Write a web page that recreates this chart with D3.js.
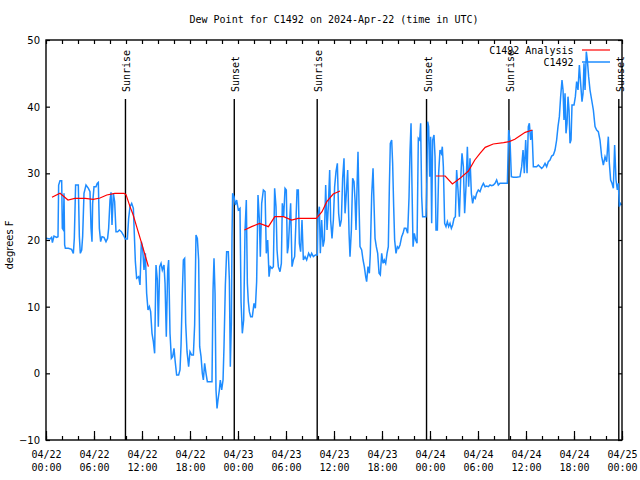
<!DOCTYPE html>
<html><head><meta charset="utf-8">
<script src="https://cdn.jsdelivr.net/npm/d3@7"></script>
<style>body{margin:0;background:#fff}</style>
</head><body><svg id="c" width="640" height="480"></svg>
<script>
const titleText = "Dew Point for C1492 on 2024-Apr-22 (time in UTC)";
const yLabel = "degrees F";
const startTime = "2024-04-22T00:00:00Z";
const endTime = "2024-04-25T00:00:00Z";
const yTicks = [-10, 0, 10, 20, 30, 40, 50];
const seriesNames = ["C1492 Analysis", "C1492"];

// observed dew point: hours since start, value (F)
const obsHours = [0,0.5,0.7,0.8,1.0,1.33,1.5,1.58,1.75,1.96,2.04,2.17,2.25,2.33,2.42,2.8,3.2,3.42,3.54,3.7,4.04,4.17,4.29,4.46,4.58,4.75,5.0,5.3,5.5,5.63,5.75,5.83,6.0,6.25,6.4,6.54,6.67,6.83,7.0,7.25,7.5,7.7,7.83,8.0,8.13,8.25,8.42,8.58,8.75,8.96,9.17,9.42,9.67,9.92,10.17,10.33,10.5,10.71,10.92,11.17,11.33,11.58,11.75,11.92,12.08,12.25,12.42,12.58,12.75,12.92,13.08,13.25,13.42,13.58,13.75,13.92,14.04,14.21,14.38,14.54,14.75,14.88,15.04,15.21,15.33,15.5,15.67,15.83,16.0,16.13,16.33,16.58,16.75,16.88,17.04,17.17,17.33,17.46,17.63,17.83,18.0,18.21,18.42,18.58,18.75,18.92,19.08,19.21,19.38,19.54,19.67,19.83,20.0,20.17,20.5,20.75,20.88,21.0,21.13,21.25,21.38,21.5,21.67,21.79,21.96,22.13,22.25,22.42,22.58,22.79,22.92,23.04,23.17,23.25,23.33,
23.5,23.67,23.83,24.04,24.25,24.38,24.54,24.71,24.88,25.04,25.17,25.29,25.42,25.58,25.79,26.0,26.17,26.33,26.5,26.67,26.79,26.96,27.17,27.38,27.54,27.71,27.88,28.04,28.25,28.42,28.58,28.75,28.88,29.04,29.25,29.42,29.54,29.71,29.88,30.04,30.17,30.29,30.46,30.58,30.75,30.92,31.08,31.25,31.38,31.54,31.67,31.83,32.0,32.17,32.38,32.58,32.83,33.04,33.21,33.42,33.67,33.92,34.0,34.17,34.29,34.46,34.63,34.79,34.96,35.13,35.29,35.46,35.58,35.75,35.92,36.08,36.25,36.42,36.58,36.75,36.92,37.08,37.25,37.38,37.54,37.71,37.88,38.0,38.17,38.33,38.5,38.63,38.75,38.88,39.0,39.13,39.25,39.46,39.63,39.79,39.96,40.08,40.25,40.42,40.54,40.71,40.88,41.0,41.13,41.29,41.46,41.63,41.79,41.96,42.13,42.29,42.46,42.63,42.79,42.92,43.04,43.21,43.33,43.46,43.58,43.75,43.92,44.08,44.25,44.46,44.63,44.79,45.0,45.21,45.38,45.5,45.63,45.75,45.88,46.04,46.21,46.38,46.54,46.71,46.83,46.96,47.08,47.29,47.5,
47.58,47.71,47.83,47.96,48.08,48.21,48.33,48.5,48.63,48.75,48.92,49.08,49.25,49.42,49.54,49.67,49.83,50.0,50.17,50.33,50.5,50.67,50.83,51.0,51.17,51.33,51.5,51.67,51.83,52.0,52.17,52.33,52.5,52.67,52.83,53.0,53.17,53.33,53.5,53.67,53.83,54.04,54.25,54.46,54.67,54.88,55.08,55.29,55.5,55.71,55.92,56.13,56.33,56.54,56.75,57.17,57.67,57.83,58.0,58.17,58.42,58.83,59.25,59.46,59.63,59.79,59.96,60.13,60.29,60.42,60.58,60.75,60.92,61.13,61.33,61.54,61.75,61.96,62.17,62.38,62.58,62.79,63.0,63.21,63.42,63.63,63.83,64.0,64.17,64.33,64.5,64.63,64.75,64.88,65.0,65.13,65.25,65.38,65.5,65.63,65.75,66.0,66.17,66.33,66.5,66.67,66.83,67.0,67.13,67.25,67.38,67.54,67.67,67.83,68.0,68.21,68.42,68.63,68.83,69.04,69.25,69.46,69.67,69.88,70.08,70.29,70.42,70.58,70.75,70.92,71.08,71.25,71.42,71.54,71.67,71.79,71.95];
const obsDew = [20.25,20.15,20.4,19.6,20.6,20.4,20.5,28.25,28.9,28.9,21.75,21.5,27.0,19.25,18.75,18.75,18.6,18.0,20.25,28.25,28.25,20.5,18.0,18.5,20.5,27,28.25,27.75,27.25,21.75,19.75,25.5,28,28,28.5,28.65,21.75,19.75,20.5,20.4,19.75,20.25,21.75,26,27.15,22.25,27,25.75,21.25,21.25,21.5,21.25,20.75,20.15,20.15,23.25,25,25.5,24.75,16.75,14.25,14.5,13.25,19.75,18.75,15.5,18,12,9.5,10,9.25,6,4.75,3,16.25,14,7,16,16.5,15.5,16.25,13.5,5.5,15.5,17,6,2.25,2.5,3.75,2.0,-0.25,-0.25,0.5,4.25,12,17,17.25,7.5,3.25,1.0,3.25,2.75,2.75,7.25,20.75,20.25,17,4,2.5,0,-1.0,1.5,0,-1.25,-1.25,-1.25,12.5,17.25,12,-2.5,-5.25,-4,-2.5,-1,-2.5,-1,4,13.25,18.25,18.25,14,1,7.5,20.5,27,
26.5,25.25,26,24.5,24.75,10.75,6,8,21.5,26,13.5,10.75,9.25,8.5,8.5,10.5,9.75,13.75,26.75,23,17.5,25.5,27.5,27.25,18,20,14.5,16,15.75,16,27.75,25,18.5,16,15.25,16.5,25.5,23.5,27.75,27.5,18,19,23,25.5,16,17,17.5,23,27.5,27.5,19.5,18.25,23,17,17.5,17,18,17.5,18,17.5,17.75,17.75,23.5,25,18,23,19,20,28.25,21.5,25,30.5,23,20.25,23,28,30.25,31.5,24,22,23,29.25,32.25,24,27,30.5,21,17.5,21.5,29.25,28.75,26,21.5,28,33.25,25.25,19,18.5,17,16,14.5,13.75,16,15,18,26.75,30.75,25.5,20.25,19,18,15,14.75,18,16.5,17,16.5,18,19,28,34.5,35,31.5,25,20,18,19,18.75,19.25,20.5,21,21.75,21.75,21,26.5,33.25,37.5,28,19,21,20,19.5,35.25,35,37.5,26.5,23.5,23.5,23.5,
27,37.75,37,29.5,35.5,22.5,35,35.75,32.5,21.5,21.5,30,33.5,33,34,31,22.5,22,22.75,22,22.5,21.75,22.25,23.25,23.5,30.5,27.5,23.5,29,33,31,24,28,34,28,32.25,27,25.5,26.5,26.25,27,27.5,27.25,28,28.5,28,28.1,28,28.25,28.15,28.25,28.5,29,28.25,28.5,28.5,28.5,36.5,35,29.5,29.4,29.4,29.5,31,33.5,30,35,30,37,37.5,35,36.5,31,31,31,31.25,31,30.75,31,31.5,31,31.75,32,32.6,32.75,33.5,35,37,38.5,41.5,44,42.5,38,42,36,37.5,41.5,39.5,34.5,35,40.25,40.25,41.5,43.75,42.5,46.25,43.5,40.75,42,46.5,42.5,48.25,47,44.5,42.5,41,39.5,37,36.5,36.25,35,32.5,31.25,32.5,31.75,35.5,31.5,29,28.5,27.75,34.25,29,27.5,28.5,25,25.5,25.25];

// analysis dew point (null = gap)
const anaHours = [0.75,1.75,2.75,3.6,4.9,5.9,6.75,7.6,8.6,9.75,10.0,10.5,10.9,11.33,11.96,12.38,12.8,null,24.8,25.7,26.7,27.8,28.6,29.7,30.7,31.5,33.8,34.5,35.1,35.9,36.75,null,48.75,49.9,50.8,51.75,52.8,53.6,54.25,54.9,55.9,57.2,57.9,58.6,59.25,59.9,60.8];
const anaDew = [26.4,27.0,26.0,26.25,26.25,26.1,26.3,26.75,27.0,27.0,26.8,25.0,23.75,22.0,19.5,17.75,16.0,null,21.5,22.0,22.5,22.0,23.5,23.5,23.0,23.25,23.25,24.25,25.75,26.9,27.35,null,29.6,29.6,28.4,29.25,30.35,32.0,33.0,33.9,34.4,34.6,34.75,35.1,35.65,36.15,36.5];

const sunTimes = ["2024-04-22T09:56:00Z","2024-04-22T23:32:00Z","2024-04-23T09:54:00Z","2024-04-23T23:34:00Z","2024-04-24T09:52:00Z","2024-04-24T23:36:00Z"];
const sunLabels = ["Sunrise","Sunset","Sunrise","Sunset","Sunrise","Sunset"];

const W = 640, H = 480;
const L = 46, R = 622, T = 40, B = 440;
const mono = "'DejaVu Sans Mono', 'Liberation Mono', monospace";
const sans = "'DejaVu Sans', 'Liberation Sans', sans-serif";
const blue = "#1e8cff", red = "#ff0000";

const t0 = new Date(startTime), t1 = new Date(endTime);
const toDate = h => new Date(t0.getTime() + h * 3600e3);

const x = d3.scaleUtc().domain([t0, t1]).range([L, R]);
const y = d3.scaleLinear().domain([-10, 50]).range([B, T]);

const svg = d3.select("#c");
svg.append("rect").attr("width", W).attr("height", H).attr("fill", "#fff");

const minorTicks = d3.utcHour.every(2).range(t0, d3.utcHour.offset(t1, 1));
const majorTicks = d3.utcHour.every(6).range(t0, d3.utcHour.offset(t1, 1));

const gxMinor = svg.append("g").attr("transform", `translate(0,${B})`)
  .call(d3.axisBottom(x).tickValues(minorTicks).tickSizeInner(-4).tickSizeOuter(0).tickFormat(""));
const gxMajor = svg.append("g").attr("transform", `translate(0,${B})`)
  .call(d3.axisBottom(x).tickValues(majorTicks).tickSizeInner(-9).tickSizeOuter(0).tickFormat(""));
const gxTop = svg.append("g").attr("transform", `translate(0,${T})`)
  .call(d3.axisTop(x).tickValues(minorTicks).tickSizeInner(-4).tickSizeOuter(0).tickFormat(""));
const gy = svg.append("g").attr("transform", `translate(${L},0)`)
  .call(d3.axisLeft(y).tickValues(yTicks).tickSizeInner(-4).tickSizeOuter(0).tickPadding(6));
const gyR = svg.append("g").attr("transform", `translate(${R},0)`)
  .call(d3.axisRight(y).tickValues(yTicks).tickSizeInner(-4).tickSizeOuter(0).tickFormat(""));

[gxMinor, gxMajor, gxTop, gy, gyR].forEach(g => {
  g.select(".domain").remove();
  g.selectAll(".tick line").attr("stroke", "#000").attr("stroke-width", 1.2);
});
gy.selectAll(".tick text").attr("font-family", sans).attr("font-size", 10).attr("fill", "#000").attr("dy", "0.35em");

const fmtD = d3.utcFormat("%m/%d"), fmtT = d3.utcFormat("%H:%M");
gxMajor.selectAll(".tick").each(function(d) {
  const t = d3.select(this).append("text").attr("fill", "#000")
    .attr("font-family", mono).attr("font-size", 10).attr("text-anchor", "middle");
  t.append("tspan").attr("x", 0).attr("y", 17.5).text(fmtD(d));
  t.append("tspan").attr("x", 0).attr("y", 30.5).text(fmtT(d));
});

// sunrise/sunset markers
sunTimes.forEach((s, i) => {
  const xs = x(new Date(s));
  svg.append("line").attr("x1", xs).attr("x2", xs).attr("y1", 99).attr("y2", B)
    .attr("stroke", "#000").attr("stroke-width", 1.4);
  svg.append("text").attr("transform", `translate(${xs + 5},92) rotate(-90)`)
    .attr("font-family", mono).attr("font-size", 10).attr("text-anchor", "start")
    .attr("fill", "#000").text(sunLabels[i]);
});

const obs = obsHours.map((h, i) => ({ t: toDate(h), v: obsDew[i] }));
const ana = anaHours.map((h, i) => ({ t: h == null ? null : toDate(h), v: anaDew[i] }));

const line = d3.line().defined(d => d.v != null && d.t != null).x(d => x(d.t)).y(d => y(d.v));

svg.append("path").datum(obs).attr("d", line).attr("fill", "none")
  .attr("stroke", blue).attr("stroke-width", 1.5).attr("stroke-linejoin", "miter");
svg.append("path").datum(ana).attr("d", line).attr("fill", "none")
  .attr("stroke", red).attr("stroke-width", 1.2);

svg.append("rect").attr("x", L).attr("y", T).attr("width", R - L).attr("height", B - T)
  .attr("fill", "none").attr("stroke", "#000").attr("stroke-width", 1.4);

svg.append("text").attr("x", (L + R) / 2).attr("y", 23).attr("text-anchor", "middle")
  .attr("font-family", mono).attr("font-size", 10).attr("fill", "#000").text(titleText);

svg.append("text").attr("transform", `translate(13,${(T + B) / 2 + 5}) rotate(-90)`)
  .attr("text-anchor", "middle").attr("font-family", sans).attr("font-size", 10)
  .attr("fill", "#000").text(yLabel);

const leg = [{ name: seriesNames[0], c: red, y: 50 }, { name: seriesNames[1], c: blue, y: 62 }];
leg.forEach(d => {
  svg.append("text").attr("x", 573.5).attr("y", d.y + 3.5).attr("text-anchor", "end")
    .attr("font-family", mono).attr("font-size", 10).attr("fill", "#000").text(d.name);
  svg.append("line").attr("x1", 582).attr("x2", 610).attr("y1", d.y).attr("y2", d.y)
    .attr("stroke", d.c).attr("stroke-width", d.c === red ? 1.2 : 1.5);
});
</script></body></html>
